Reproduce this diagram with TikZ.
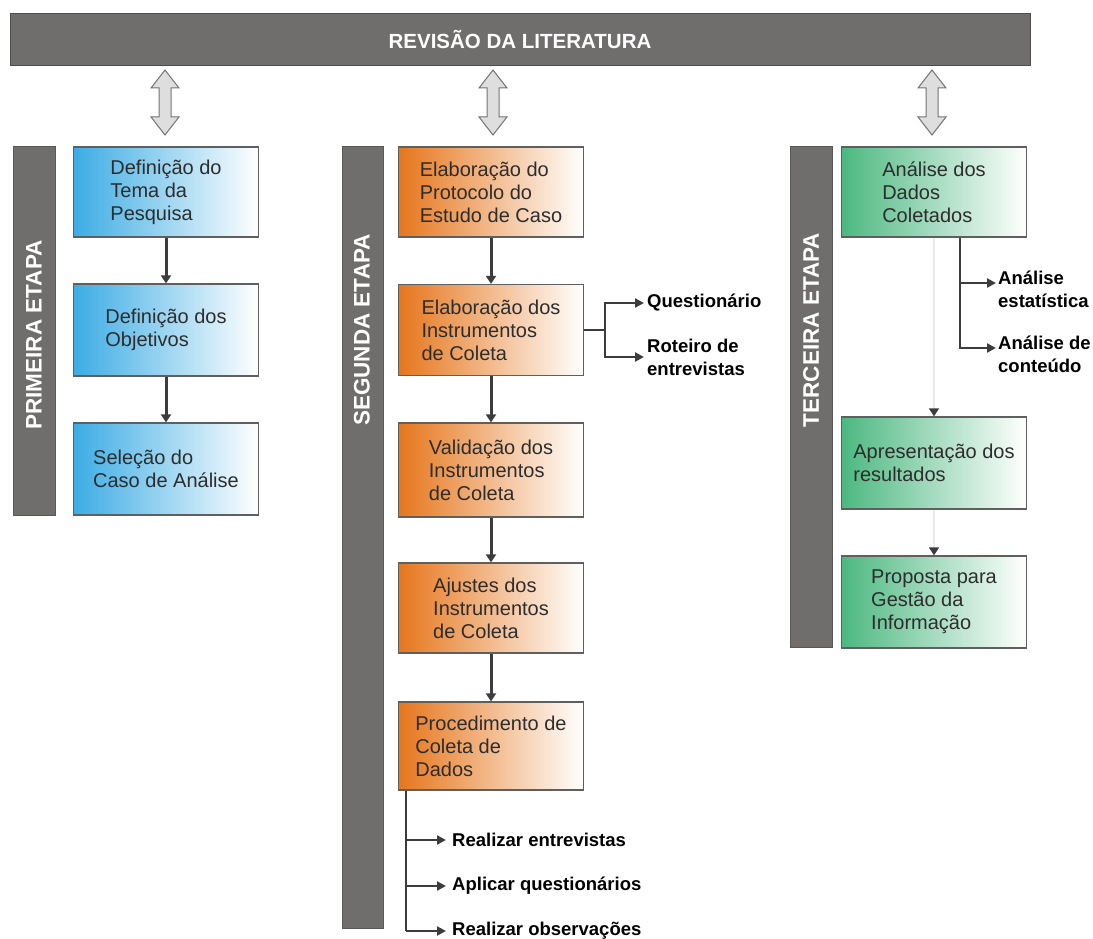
\documentclass[tikz,border=0pt]{standalone}
\usepackage{fontspec}
\setmainfont{Liberation Sans}
\usetikzlibrary{arrows.meta}
\definecolor{barcol}{RGB}{112,110,108}
\definecolor{blueL}{RGB}{60,172,228}
\definecolor{orangeL}{RGB}{230,118,28}
\definecolor{greenL}{RGB}{76,184,128}
\definecolor{edgecol}{RGB}{95,95,95}
\definecolor{txtcol}{RGB}{45,45,45}
\definecolor{linecol}{RGB}{60,60,60}
\begin{document}
\begin{tikzpicture}[x=1pt,y=-1pt,
  box/.style={draw=edgecol, line width=1.3pt, minimum width=185pt, minimum height=90pt,
    inner sep=0pt, text=txtcol, font=\fontsize{20}{23}\selectfont, align=left},
  bluebox/.style={box, left color=blueL, right color=white},
  orangebox/.style={box, left color=orangeL, right color=white},
  greenbox/.style={box, left color=greenL, right color=white},
  etapa/.style={fill=barcol, draw=barcol!80!black, line width=0.5pt},
  etapatxt/.style={rotate=90, text=white, font=\bfseries\fontsize{22.5}{26}\selectfont},
  flow/.style={draw=linecol, line width=3pt, -{Triangle[length=8pt,width=10pt]}},
  faint/.style={draw=black!8, line width=1.5pt, -{Triangle[length=8pt,width=10pt,color=linecol]}},
  br/.style={draw=linecol, line width=2.2pt},
  brarr/.style={br, -{Triangle[length=9pt,width=9pt]}},
  lab/.style={inner sep=0pt, anchor=west, text=black, font=\bfseries\fontsize{18.5}{23}\selectfont, align=left},
  dbl/.style={fill=black!13, draw=black!55, line width=1pt, line join=miter}
]
\useasboundingbox (0,0) rectangle (1093,939);

% banner
\node[fill=barcol, draw=barcol!70!black, line width=0.8pt, minimum width=1020pt, minimum height=52pt, inner sep=0pt,
  text=white, font=\bfseries\fontsize{20.5}{22}\selectfont] (rev) at (520,39) {REVISÃO DA LITERATURA};

% double arrows
\foreach \cx in {165,493,932}{
  \draw[dbl] (\cx,70) -- (\cx+14,88) -- (\cx+6,88) -- (\cx+6,117) -- (\cx+14,117) -- (\cx,135)
    -- (\cx-14,117) -- (\cx-6,117) -- (\cx-6,88) -- (\cx-14,88) -- cycle;
}

% stage bars
\fill[etapa] (13,146) rectangle (55,515);
\node[etapatxt] (e1) at (34,335) {PRIMEIRA ETAPA};
\fill[etapa] (342,146) rectangle (383,928);
\node[etapatxt] (e2) at (362,330) {SEGUNDA ETAPA};
\fill[etapa] (790,146) rectangle (832,647);
\node[etapatxt] (e3) at (811,330) {TERCEIRA ETAPA};

% column 1
\node[bluebox] (a1) at (166,192) {Definição do\\Tema da\\Pesquisa};
\node[bluebox, minimum height=92pt] (a2) at (166,330) {Definição dos\\Objetivos};
\node[bluebox, minimum height=92pt] (a3) at (166,469) {Seleção do\\Caso de Análise};
\draw[flow] (a1) -- (a2);
\draw[flow] (a2) -- (a3);

% column 2
\node[orangebox] (b1) at (491,192) {Elaboração do\\Protocolo do\\Estudo de Caso};
\node[orangebox, minimum height=91pt] (b2) at (491,330) {Elaboração dos\\Instrumentos\\de Coleta};
\node[orangebox, minimum height=94pt] (b3) at (491,470) {Validação dos\\Instrumentos\\de Coleta};
\node[orangebox] (b4) at (491,608) {Ajustes dos\\Instrumentos\\de Coleta};
\node[orangebox, minimum height=88pt] (b5) at (491,746) {Procedimento de\\Coleta de\\Dados};
\draw[flow] (b1) -- (b2);
\draw[flow] (b2) -- (b3);
\draw[flow] (b3) -- (b4);
\draw[flow] (b4) -- (b5);

% branch of b2
\coordinate (j2) at (605,0);
\node[lab] (q) at (647,303) {Questionário};
\node[lab] (r) at (647,357) {Roteiro de\\entrevistas};
\draw[brarr] (b2.east) -| (j2 |- q.west) -- ([xshift=-3pt]q.west);
\draw[brarr] (j2 |- b2.east) |- ([xshift=-3pt]r.west);

% branch of b5
\coordinate (j5) at (406,0);
\node[lab] (p1) at (452,840) {Realizar entrevistas};
\node[lab] (p2) at (452,886) {Aplicar questionários};
\node[lab] (p3) at (452,931) {Realizar observações};
\draw[br] (j5 |- b5.south) -- (j5 |- p3.west);
\draw[brarr] (j5 |- p1.west) -- ([xshift=-6pt]p1.west);
\draw[brarr] (j5 |- p2.west) -- ([xshift=-6pt]p2.west);
\draw[brarr] (j5 |- p3.west) -- ([xshift=-6pt]p3.west);

% column 3
\node[greenbox] (c1) at (934,192) {Análise dos\\Dados\\Coletados};
\node[greenbox, minimum height=92pt] (c2) at (934,463) {Apresentação dos\\resultados};
\node[greenbox, minimum height=92pt] (c3) at (934,602) {Proposta para\\Gestão da\\Informação};
\draw[faint] (c1) -- (c2);
\draw[faint] (c2) -- (c3);

% branch of c1
\coordinate (j3) at (960,0);
\node[lab, anchor=north west] (s1) at (998,271) {Análise\\estatística};
\node[lab, anchor=north west] (s2) at (998,336) {Análise de\\conteúdo};
\draw[brarr] (j3 |- c1.south) |- ([yshift=-12pt,xshift=-2pt]s1.north west);
\draw[brarr] (j3 |- c1.south) |- ([yshift=-12pt,xshift=-2pt]s2.north west);
\end{tikzpicture}
\end{document}
